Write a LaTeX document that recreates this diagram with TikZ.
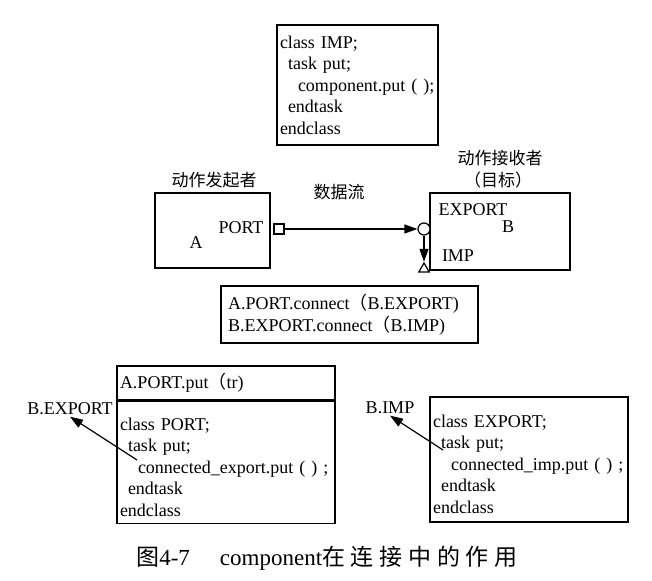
\documentclass[tikz,border=0pt]{standalone}
\usepackage{fontspec}
\setmainfont{Liberation Serif}
\newfontfamily\cjk{Noto Sans CJK SC}
\newfontfamily\cjkwide[LetterSpace=25]{Noto Sans CJK SC}
\usetikzlibrary{arrows.meta,shapes.geometric,positioning}
\newcommand{\codesize}{\fontsize{18pt}{21.5pt}\selectfont}
\newcommand{\hansize}{\fontsize{17pt}{21pt}\selectfont}
\newcommand{\toppad}{\rule{0pt}{22pt}}
\tikzstyle{codebox}=[draw, align=left, inner xsep=3pt, inner ysep=2pt, font=\codesize]
\tikzstyle{unit}=[draw, inner sep=0pt]
\tikzstyle{lbl}=[font=\codesize, inner sep=1pt]
\tikzstyle{hanlbl}=[font=\cjk\hansize, inner sep=1pt]
\tikzstyle{flow}=[-{Triangle[length=13pt,width=9pt]}]

\begin{document}
\begin{tikzpicture}[x=1pt, y=-1pt, line width=1.2pt]
                    \useasboundingbox (0,0) rectangle (652,580);
                    \node[codebox, text width=155pt, minimum height=120pt] (impcls) at (357.5,85)
                        {class IMP;\\ \hspace*{8pt}task put;\\ \hspace*{18pt}component.put ( );\\ \hspace*{8pt}endtask\\ endclass};
                    \node[unit, minimum width=115pt, minimum height=75pt] (boxA) at (212.5,230.5) {};
                    \node[lbl] (port) at (241,228) {PORT};
                    \node[lbl] (nameA) at (196,243) {A};
                    \node[hanlbl] (initiator) at (214,180) {动作发起者};
                    \node[draw, minimum size=10pt, inner sep=0pt] (portsq) at (279,229) {};
                    \node[hanlbl] (dataflow) at (339,192) {数据流};
                    \node[unit, minimum width=140pt, minimum height=77pt] (boxB) at (500,231.5) {};
                    \node[circle, draw, fill=white, minimum size=12pt, inner sep=0pt] (expcirc) at (424,229) {};
                    \node[regular polygon, regular polygon sides=3, draw, minimum size=12pt, inner sep=0pt] (imptri) at (424,269) {};
                    \node[lbl] (export) at (473,210) {EXPORT};
                    \node[lbl] (nameB) at (508,227) {B};
                    \node[lbl] (imp) at (458,256) {IMP};
                    \node[hanlbl] (target) at (500,158) {动作接收者};
                    \node[hanlbl] (targetb) at (498,180) {（目标）};
                    \draw[flow] (portsq)--(expcirc);
                    \draw[flow] (expcirc)--(imptri.north);
                    \node[codebox, inner xsep=7pt, text width=243pt, minimum height=57pt] (conn) at (349.5,314.5)
                        {A.PORT.connect{\cjk （}B.EXPORT)\\ B.EXPORT.connect{\cjk （}B.IMP)};
                    \node[codebox, text width=212pt, minimum height=34pt] (puthdr) at (226,383) {A.PORT.put{\cjk （}tr)};
                    \node[codebox, text width=212pt, minimum height=122pt, below=0pt of puthdr] (portcls)
                        {\toppad class PORT;\\ \hspace*{8pt}task put;\\ \hspace*{18pt}connected\_export.put ( ) ;\\ \hspace*{8pt}endtask\\ endclass};
                    \node[codebox, text width=192pt, minimum height=125pt] (expcls) at (529,459.5)
                        {\toppad class EXPORT;\\ \hspace*{8pt}task put;\\ \hspace*{18pt}connected\_imp.put ( ) ;\\ \hspace*{8pt}endtask\\ endclass};
                    \node[lbl] (bexport) at (70,409) {B.EXPORT};
                    \node[lbl] (bimp) at (390,408) {B.IMP};
                    \coordinate (porttail) at (137,460);
                    \coordinate (exptail) at (443,450);
                    \draw[flow] (porttail)--(bexport.south);
                    \draw[flow] (exptail)--(bimp.south);
                    \node (caption) at (327,558)
                        {\fontsize{23pt}{24pt}\selectfont{\cjkwide\fontsize{23pt}{24pt}\selectfont 图}4-7\hspace{30pt}component{\cjkwide\fontsize{23pt}{24pt}\selectfont 在连接中的作用}};
                \end{tikzpicture}
\end{document}
